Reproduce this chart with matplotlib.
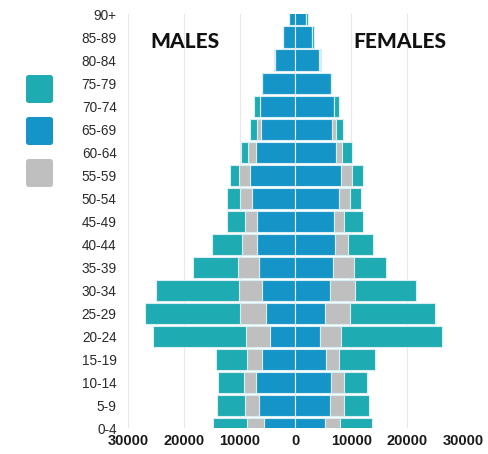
import matplotlib.pyplot as plt
from matplotlib.patches import FancyBboxPatch
import numpy as np

age_groups = ['0-4', '5-9', '10-14', '15-19', '20-24', '25-29', '30-34', '35-39',
              '40-44', '45-49', '50-54', '55-59', '60-64', '65-69', '70-74',
              '75-79', '80-84', '85-89', '90+']

# segment widths, listed from 0-4 up to 90+
male_blue = [5700, 6600, 7100, 6000, 4500, 5300, 6000, 6500, 6800, 6900,
             7800, 8100, 7000, 6200, 6300, 6000, 3600, 2200, 1100]
male_gray = [3000, 2400, 2100, 2700, 4400, 4700, 4100, 3700, 2800, 2200,
             2200, 2000, 1500, 700, 0, 0, 0, 0, 0]
male_teal = [6000, 5000, 4600, 5500, 16600, 16900, 14800, 8200, 5400, 3200,
             2200, 1600, 1200, 1300, 1100, 0, 200, 0, 100]

female_blue = [5300, 6100, 6300, 5400, 4300, 5200, 6200, 6800, 7100, 6900,
               7800, 8100, 7300, 6600, 6900, 6400, 4200, 2900, 1800]
female_gray = [2700, 2500, 2400, 2400, 3800, 4600, 4400, 3600, 2300, 1700,
               2000, 2000, 1000, 600, 0, 0, 100, 0, 0]
female_teal = [5700, 4500, 4100, 6500, 18200, 15100, 11000, 5800, 4400, 3400,
               1900, 1900, 1900, 1300, 800, 0, 350, 400, 500]

x_ticks = [-30000, -20000, -10000, 0, 10000, 20000, 30000]

teal = '#1eabb1'
blue = '#1594c8'
gray = '#bfbfbf'
edge = '#d9eef3'

fig = plt.figure(figsize=(4.88, 4.54), dpi=100)
ax = fig.add_axes([0.262, 0.057, 0.687, 0.912])

y = np.arange(len(age_groups))
mb = np.array(male_blue)
mg = np.array(male_gray)
mt = np.array(male_teal)
fb = np.array(female_blue)
fg = np.array(female_gray)
ft = np.array(female_teal)

h = 0.92
ax.barh(y, -mb, height=h, color=blue, edgecolor=edge, linewidth=0.8, zorder=3)
ax.barh(y, -mg, left=-mb, height=h, color=gray, edgecolor=edge, linewidth=0.8, zorder=3)
ax.barh(y, -mt, left=-(mb + mg), height=h, color=teal, edgecolor=edge, linewidth=0.8, zorder=3)
ax.barh(y, fb, height=h, color=blue, edgecolor=edge, linewidth=0.8, zorder=3)
ax.barh(y, fg, left=fb, height=h, color=gray, edgecolor=edge, linewidth=0.8, zorder=3)
ax.barh(y, ft, left=fb + fg, height=h, color=teal, edgecolor=edge, linewidth=0.8, zorder=3)

ax.set_xlim(-30000, 30000)
ax.set_ylim(0, len(age_groups) - 1)
ax.set_yticks(y)
ax.set_yticklabels(age_groups, fontsize=9.8, color='#2a2a2a', family='Liberation Sans')
ax.set_xticks(x_ticks)
ax.set_xticklabels([str(abs(v)) for v in x_ticks], fontsize=10.5, fontweight='bold',
                   color='#1a1a1a', family='Liberation Sans')
ax.tick_params(length=0)
ax.tick_params(axis='y', pad=8)
ax.tick_params(axis='x', pad=4)
ax.grid(axis='x', color='#e8e8e8', linewidth=0.8, zorder=0)
for s in ax.spines.values():
    s.set_visible(False)

ax.text(-19800, 16.8, 'MALES', ha='center', va='center', fontsize=15,
        fontweight='black', family=['Lato', 'DejaVu Sans'], color='#111111')
ax.text(18600, 16.8, 'FEMALES', ha='center', va='center', fontsize=15,
        fontweight='black', family=['Lato', 'DejaVu Sans'], color='#111111')

# legend squares (no labels)
for i, c in enumerate([teal, blue, gray]):
    y0 = 1 - (75 + i * 42 + 28) / 454
    box = FancyBboxPatch((26 / 488, y0), 27 / 488, 28 / 454,
                         boxstyle='round,pad=0,rounding_size=0.006',
                         transform=fig.transFigure, facecolor=c, edgecolor='none')
    fig.patches.append(box)

fig.savefig('out.png', dpi=100)
